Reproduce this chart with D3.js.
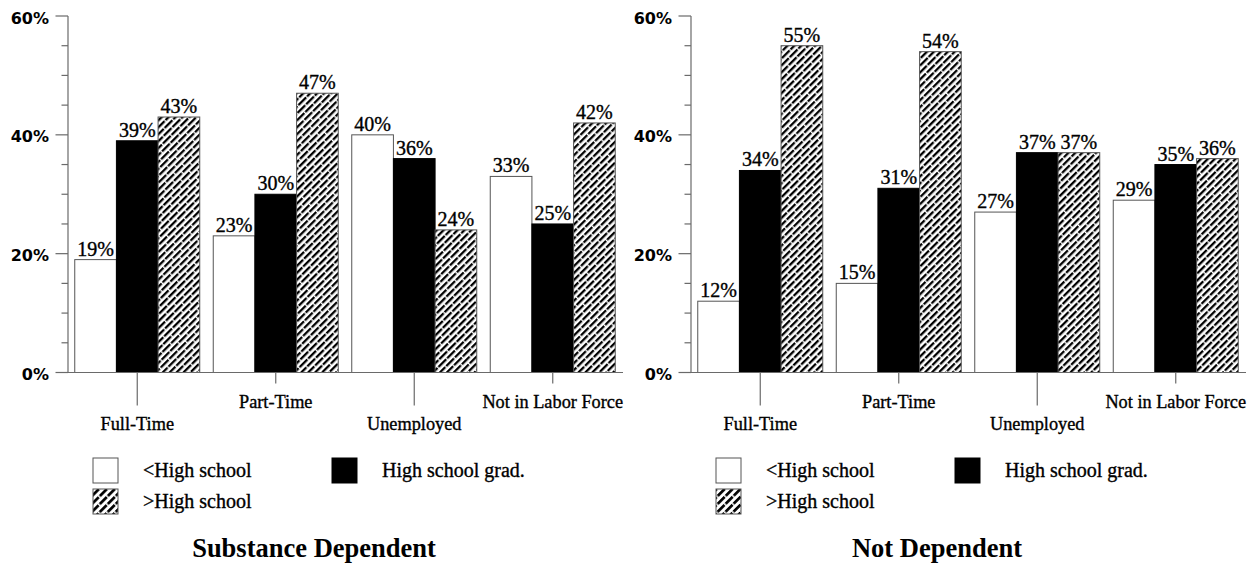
<!DOCTYPE html>
<html>
<head>
<meta charset="utf-8">
<script src="https://cdn.jsdelivr.net/npm/d3@7"></script>
<style>
  html, body { margin: 0; padding: 0; background: #fff; }
  svg { display: block; }
</style>
</head>
<body>
<svg id="chart" width="1256" height="563"></svg>
<script>
// Employment status by education level, two panels
const categories = ["Full-Time", "Part-Time", "Unemployed", "Not in Labor Force"];
const seriesNames = ["<High school", "High school grad.", ">High school"];
const yTicks = [0, 20, 40, 60];
const panelTitles = ["Substance Dependent", "Not Dependent"];

// Substance dependent (%)
const depLessHS = [19, 23, 40, 33];
const depHSGrad = [39, 30, 36, 25];
const depMoreHS = [43, 47, 24, 42];

// Not dependent (%)
const notLessHS = [12, 15, 27, 29];
const notHSGrad = [34, 31, 37, 35];
const notMoreHS = [55, 54, 37, 36];

const panels = [
  { title: panelTitles[0], series: [depLessHS, depHSGrad, depMoreHS], x0: 68 },
  { title: panelTitles[1], series: [notLessHS, notHSGrad, notMoreHS], x0: 691 }
];

const svg = d3.select("#chart");
const serif = "'Liberation Serif', 'Times New Roman', serif";
const axisGray = "#6a6a6a";

// diagonal hatch with short breaks, staggered between neighbouring stripes
const defs = svg.append("defs");
function hatch(id, spacing, thick, dash, gap) {
  const period = dash + gap;
  const p = defs.append("pattern")
    .attr("id", id)
    .attr("patternUnits", "userSpaceOnUse")
    .attr("width", spacing * 2)
    .attr("height", period)
    .attr("patternTransform", "rotate(45)");
  p.append("rect").attr("width", spacing * 2).attr("height", period).attr("fill", "#fff");
  p.append("rect").attr("x", 0).attr("y", 0).attr("width", thick).attr("height", dash).attr("fill", "#000");
  const off = period / 2;
  p.append("rect").attr("x", spacing).attr("y", off).attr("width", thick).attr("height", period - off).attr("fill", "#000");
  p.append("rect").attr("x", spacing).attr("y", 0).attr("width", thick).attr("height", dash - (period - off)).attr("fill", "#000");
}
hatch("hatchBar", 4.9, 2.3, 11, 1.3);
hatch("hatchLegend", 5.6, 2.7, 10, 1.5);

const fills = ["#fff", "#000", "url(#hatchBar)"];
const legendFills = ["#fff", "#000", "url(#hatchLegend)"];

const yTop = 16, yBottom = 372.5, plotWidth = 554;

function serifText(sel, size) {
  return sel.attr("font-family", serif)
    .attr("font-size", size)
    .attr("fill", "#000")
    .attr("stroke", "#000")
    .attr("stroke-width", 0.35);
}

panels.forEach(panel => {
  const g = svg.append("g");
  const x0 = panel.x0;

  const y = d3.scaleLinear().domain([0, 60]).range([yBottom, yTop]);
  const x = d3.scaleBand().domain(categories)
    .range([x0, x0 + plotWidth])
    .paddingInner(0.0975).paddingOuter(0.04875);
  const xs = d3.scaleBand().domain(d3.range(seriesNames.length))
    .range([0, x.bandwidth()]).padding(0);

  // bars with value labels
  categories.forEach((cat, ci) => {
    panel.series.forEach((vals, si) => {
      const v = vals[ci];
      const bx = x(cat) + xs(si);
      g.append("rect")
        .attr("x", bx)
        .attr("y", y(v))
        .attr("width", xs.bandwidth())
        .attr("height", y(0) - y(v))
        .attr("fill", fills[si])
        .attr("stroke", si === 1 ? "#000" : "#555")
        .attr("stroke-width", 1);
      serifText(g.append("text"), 20)
        .attr("x", bx + xs.bandwidth() / 2)
        .attr("y", y(v) - 4)
        .attr("text-anchor", "middle")
        .text(v + "%");
    });
  });

  // y axis: major ticks every 20%, minor every 5%
  const yAxis = g.append("g");
  yAxis.append("line")
    .attr("x1", x0).attr("x2", x0)
    .attr("y1", y(60)).attr("y2", y(0))
    .attr("stroke", axisGray).attr("stroke-width", 1.2);
  d3.range(0, 61, 5).forEach(t => {
    const major = yTicks.includes(t);
    yAxis.append("line")
      .attr("x1", x0 - (major ? 12.5 : 6.5)).attr("x2", x0)
      .attr("y1", y(t)).attr("y2", y(t))
      .attr("stroke", axisGray).attr("stroke-width", 1.2);
  });
  yTicks.forEach(t => {
    yAxis.append("text")
      .attr("x", x0 - 19)
      .attr("y", y(t) + 7.5)
      .attr("text-anchor", "end")
      .attr("font-family", "'DejaVu Sans', Verdana, sans-serif")
      .attr("font-weight", "bold")
      .attr("font-size", 16)
      .attr("fill", "#000")
      .text(t + "%");
  });

  // x axis baseline and staggered category ticks
  g.append("line")
    .attr("x1", x0).attr("x2", x0 + plotWidth + 1)
    .attr("y1", y(0)).attr("y2", y(0))
    .attr("stroke", axisGray).attr("stroke-width", 1.2);
  categories.forEach((cat, ci) => {
    const cx = x(cat) + x.bandwidth() / 2;
    const low = ci % 2 === 0;
    g.append("line")
      .attr("x1", cx).attr("x2", cx)
      .attr("y1", y(0)).attr("y2", y(0) + (low ? 33 : 11))
      .attr("stroke", axisGray).attr("stroke-width", 1.2);
    serifText(g.append("text"), 18.3)
      .attr("x", cx)
      .attr("y", low ? 430 : 408)
      .attr("text-anchor", "middle")
      .text(cat);
  });

  // legend
  const legendPos = [[x0 + 25, 458], [x0 + 264, 458], [x0 + 25, 489]];
  seriesNames.forEach((name, si) => {
    const [lx, ly] = legendPos[si];
    g.append("rect")
      .attr("x", lx).attr("y", ly)
      .attr("width", 25).attr("height", 25)
      .attr("fill", legendFills[si])
      .attr("stroke", si === 1 ? "#000" : "#555")
      .attr("stroke-width", 1);
    serifText(g.append("text"), 20)
      .attr("x", lx + 50)
      .attr("y", ly + 19)
      .text(name);
  });

  // panel title
  g.append("text")
    .attr("x", x0 + 246)
    .attr("y", 557)
    .attr("text-anchor", "middle")
    .attr("font-family", serif)
    .attr("font-weight", "bold")
    .attr("font-size", 26.5)
    .attr("fill", "#000")
    .text(panel.title);
});
</script>
</body>
</html>
